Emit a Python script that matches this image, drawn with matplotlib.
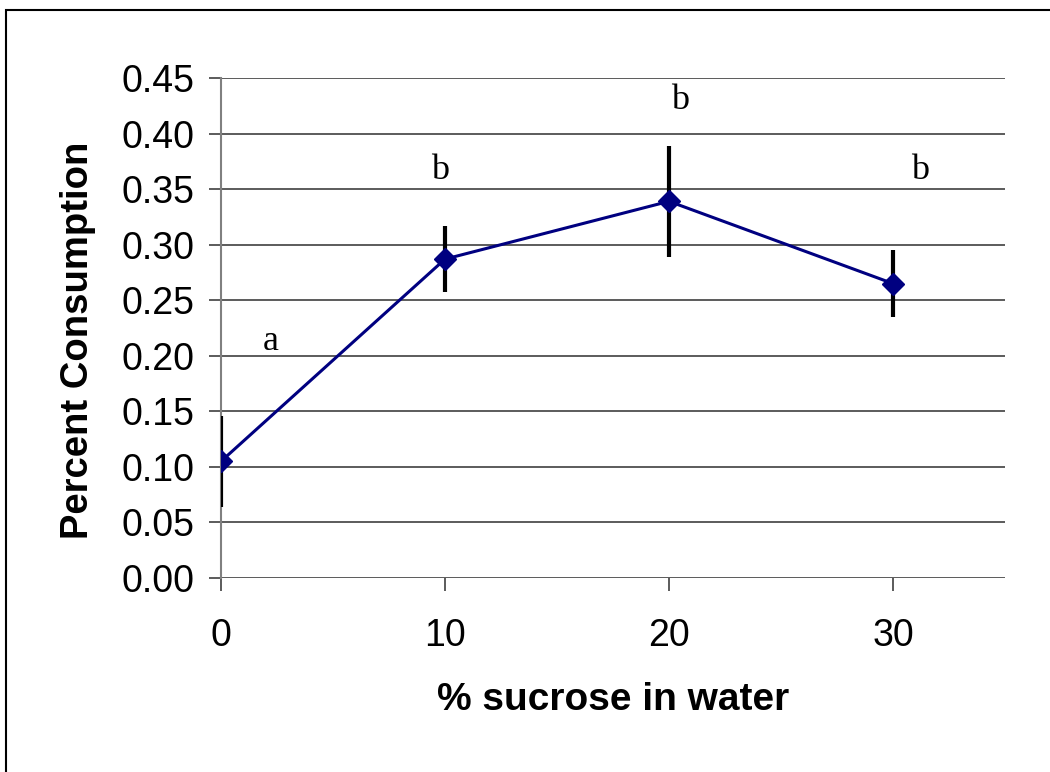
import matplotlib
matplotlib.use("Agg")
import matplotlib.pyplot as plt
import matplotlib.patches as patches

# data
sucrose = [0, 10, 20, 30]
consumption = [0.105, 0.287, 0.339, 0.265]
err = [0.041, 0.030, 0.050, 0.030]
letters = ["a", "b", "b", "b"]
letter_x = [2.2, 9.8, 20.5, 31.2]
letter_y = [0.213, 0.367, 0.430, 0.367]
yticks = [0.00, 0.05, 0.10, 0.15, 0.20, 0.25, 0.30, 0.35, 0.40, 0.45]

plt.rcParams["font.family"] = ["Liberation Sans", "DejaVu Sans"]

fig = plt.figure(figsize=(10.5, 7.72), dpi=100)
ax = fig.add_axes([221 / 1050, 1 - 578 / 772, (1005 - 221) / 1050, (578 - 78) / 772])

# outer frame, only left and top edges fall inside the picture
frame = patches.Rectangle((6 / 1050, -0.1), 1.2, (772 - 10) / 772 + 0.1,
                          transform=fig.transFigure, fill=False,
                          edgecolor="black", linewidth=1.5, clip_on=False)
fig.patches.append(frame)

ax.errorbar(sucrose, consumption, yerr=err, fmt="none", ecolor="black",
            elinewidth=3, capsize=0, zorder=3)
ax.plot(sucrose, consumption, color="#000080", linewidth=2.2, marker="D",
        markersize=11, markerfacecolor="#000080", markeredgecolor="#000080",
        zorder=4)

for lx, ly, t in zip(letter_x, letter_y, letters):
    ax.text(lx, ly, t, family="Liberation Serif", fontsize=26,
            ha="center", va="center")

ax.set_xlim(0, 35)
ax.set_ylim(0, 0.45)
ax.set_xticks(sucrose)
ax.set_yticks(yticks)
ax.set_yticklabels([f"{v:.2f}" for v in yticks])
ax.tick_params(axis="both", direction="out", length=9, width=1.2,
               color="#404040", labelsize=27)
ax.tick_params(axis="x", pad=20)
ax.tick_params(axis="y", pad=10)

ax.yaxis.grid(True, color="#404040", linewidth=1.2)
ax.set_axisbelow(True)
for side in ["top", "right", "bottom"]:
    ax.spines[side].set_visible(False)
ax.spines["left"].set_color("#808080")
ax.spines["left"].set_linewidth(1.5)

fig.text(613 / 1050, 1 - 700 / 772, "% sucrose in water", fontsize=28,
         fontweight="bold", ha="center", va="center")
fig.text(78 / 1050, 1 - 340 / 772, "Percent Consumption", fontsize=27.5,
         fontweight="bold", ha="center", va="center", rotation=90)

fig.savefig("out.png", dpi=100)
